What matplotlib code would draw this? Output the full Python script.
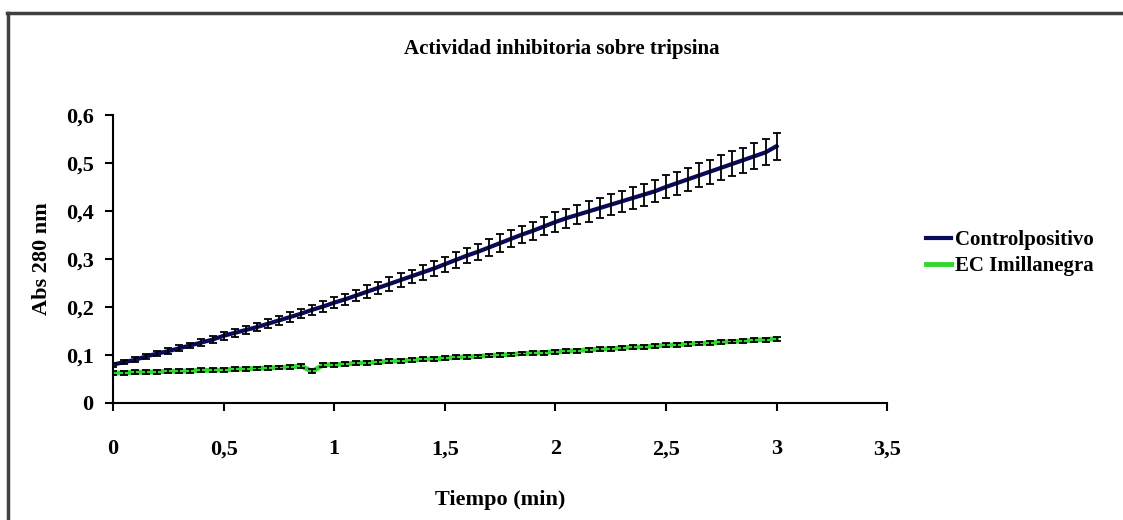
import matplotlib
matplotlib.use("Agg")
import matplotlib.pyplot as plt
from matplotlib.lines import Line2D
from matplotlib.ticker import FuncFormatter

plt.rcParams['font.family'] = ['Liberation Serif', 'DejaVu Serif']
plt.rcParams['font.weight'] = 'bold'

# tiempo en minutos (cada 3 s)
tiempo = [i * 0.05 for i in range(61)]

control = [0.080, 0.085, 0.090, 0.097, 0.103, 0.108, 0.114, 0.120, 0.126, 0.132,
           0.140, 0.146, 0.152, 0.158, 0.165, 0.172, 0.179, 0.186, 0.194, 0.201,
           0.209, 0.216, 0.224, 0.232, 0.240, 0.248, 0.256, 0.264, 0.272, 0.280,
           0.289, 0.298, 0.307, 0.315, 0.324, 0.333, 0.342, 0.351, 0.359, 0.368,
           0.377, 0.385, 0.392, 0.399, 0.406, 0.413, 0.420, 0.427, 0.434, 0.441,
           0.450, 0.458, 0.466, 0.474, 0.482, 0.490, 0.498, 0.506, 0.514, 0.522,
           0.535]
control_err = [0.004, 0.004, 0.005, 0.005, 0.005, 0.006, 0.006, 0.006, 0.007, 0.007,
               0.008, 0.008, 0.008, 0.009, 0.009, 0.010, 0.010, 0.010, 0.011, 0.011,
               0.012, 0.012, 0.012, 0.013, 0.013, 0.014, 0.014, 0.014, 0.015, 0.015,
               0.016, 0.016, 0.016, 0.017, 0.017, 0.018, 0.018, 0.018, 0.019, 0.019,
               0.020, 0.020, 0.020, 0.021, 0.021, 0.022, 0.022, 0.022, 0.023, 0.023,
               0.024, 0.024, 0.024, 0.025, 0.025, 0.026, 0.026, 0.026, 0.027, 0.027,
               0.028]

imillanegra = [0.062, 0.063, 0.064, 0.064, 0.065, 0.066, 0.066, 0.067, 0.068, 0.068,
               0.069, 0.070, 0.071, 0.072, 0.073, 0.074, 0.075, 0.077, 0.066, 0.079,
               0.080, 0.081, 0.083, 0.084, 0.085, 0.087, 0.088, 0.089, 0.091, 0.092,
               0.093, 0.095, 0.096, 0.097, 0.099, 0.100, 0.101, 0.103, 0.104, 0.105,
               0.107, 0.108, 0.109, 0.111, 0.112, 0.113, 0.115, 0.116, 0.117, 0.119,
               0.120, 0.121, 0.123, 0.124, 0.125, 0.127, 0.128, 0.129, 0.131, 0.132,
               0.134]
imillanegra_err = [0.004] * 61

navy = '#0a0a5a'
verde = '#2ed82e'

fig = plt.figure(figsize=(11.23, 5.2), dpi=100)
ax = fig.add_axes([0.1006, 0.225, 0.6894, 0.554])

ax.plot(tiempo, control, color=navy, lw=3, zorder=2)
ax.errorbar(tiempo, control, yerr=control_err, fmt='none', ecolor='black',
            elinewidth=1.3, capsize=3, capthick=1.3, zorder=3)
ax.plot(tiempo, imillanegra, color=verde, lw=3.5, zorder=2)
ax.errorbar(tiempo, imillanegra, yerr=imillanegra_err, fmt='none', ecolor='black',
            elinewidth=1.3, capsize=3, capthick=1.3, zorder=3)

ax.set_xlim(0, 3.5)
ax.set_ylim(0, 0.6)
ax.set_xticks([0, 0.5, 1, 1.5, 2, 2.5, 3, 3.5])
ax.set_yticks([0, 0.1, 0.2, 0.3, 0.4, 0.5, 0.6])
coma = FuncFormatter(lambda v, p: ('%g' % v).replace('.', ','))
ax.xaxis.set_major_formatter(coma)
ax.yaxis.set_major_formatter(coma)
ax.spines['top'].set_visible(False)
ax.spines['right'].set_visible(False)
for s in ['left', 'bottom']:
    ax.spines[s].set_linewidth(1.5)
ax.tick_params(direction='out', length=6, width=1.5, labelsize=16)
ax.tick_params(axis='x', pad=20)
ax.tick_params(axis='y', pad=8)

ax.set_xlabel('Tiempo (min)', fontsize=16, fontweight='bold', labelpad=22)
ax.set_ylabel('Abs 280 nm', fontsize=16, fontweight='bold', labelpad=10)
fig.text(0.5, 0.905, 'Actividad inhibitoria sobre tripsina', fontsize=15,
         fontweight='bold', ha='center', va='center')

handles = [Line2D([], [], color=navy, lw=3), Line2D([], [], color=verde, lw=3.5)]
fig.legend(handles, ['Controlpositivo', 'EC Imillanegra'], loc='upper left',
           bbox_to_anchor=(0.808, 0.594), frameon=False, fontsize=15,
           handlelength=1.2, handletextpad=0.2, labelspacing=0.3)

# marco exterior del grafico
fig.add_artist(Line2D([0.006, 1.0], [0.975, 0.975], color='#404040', lw=2.5))
fig.add_artist(Line2D([0.0075, 0.0075], [0.0, 0.975], color='#404040', lw=2.5))

fig.savefig('out.png', dpi=100)
